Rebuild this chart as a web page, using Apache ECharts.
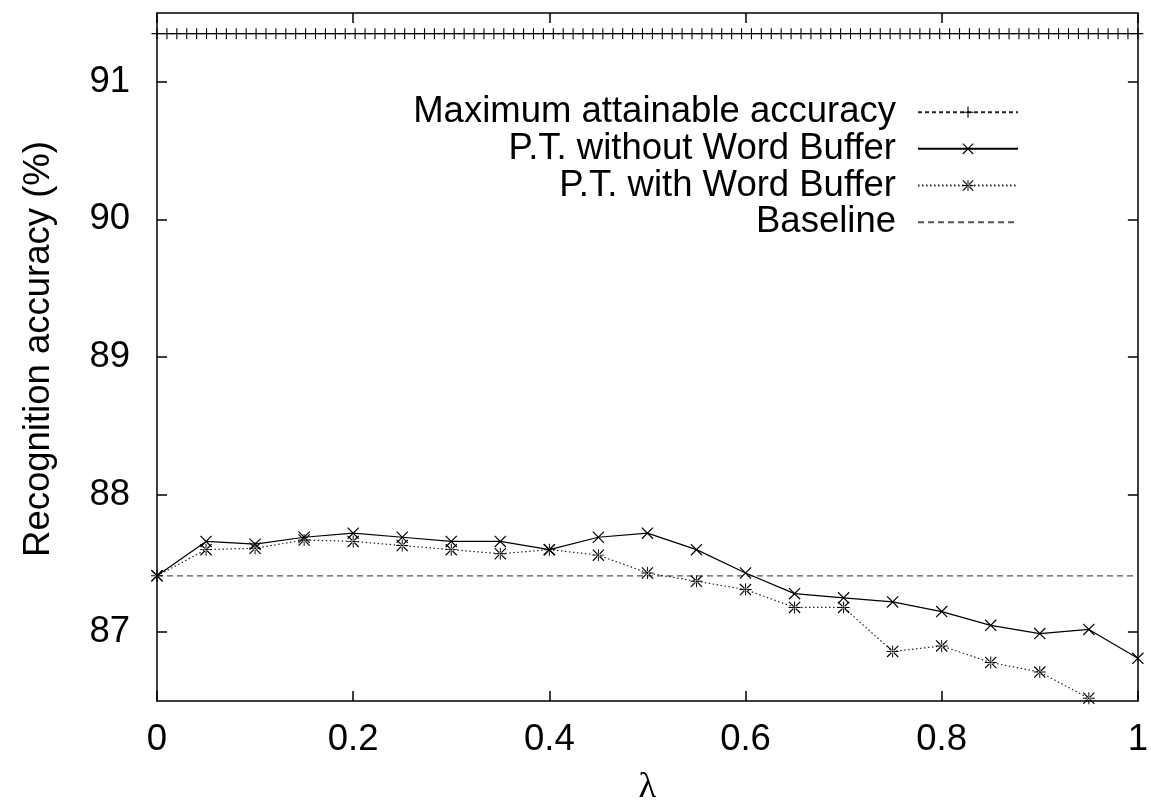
<!DOCTYPE html>
<html>
<head>
<meta charset="utf-8">
<script src="https://cdn.jsdelivr.net/npm/echarts@6/dist/echarts.min.js"></script>
<style>
html,body{margin:0;padding:0;background:#fff;}
#chart{width:1151px;height:811px;}
</style>
</head>
<body>
<div id="chart"></div>
<script>
// ---- data ----
const lambdas = [0, 0.05, 0.1, 0.15, 0.2, 0.25, 0.3, 0.35, 0.4, 0.45, 0.5, 0.55, 0.6, 0.65, 0.7, 0.75, 0.8, 0.85, 0.9, 0.95, 1.0];
const withoutBuffer = [87.41, 87.66, 87.64, 87.69, 87.72, 87.69, 87.66, 87.66, 87.60, 87.69, 87.72, 87.60, 87.43, 87.28, 87.25, 87.22, 87.15, 87.05, 86.99, 87.02, 86.81];
const withBuffer = [87.41, 87.60, 87.61, 87.67, 87.66, 87.63, 87.60, 87.57, 87.60, 87.56, 87.43, 87.37, 87.31, 87.18, 87.18, 86.86, 86.90, 86.78, 86.71, 86.52];
const maxAttainable = 91.35;
const maxSampleCount = 100;   // constant function sampled like the original plot
const baseline = 87.41;
const yTickValues = [87, 88, 89, 90, 91];
const seriesNames = ['Maximum attainable accuracy', 'P.T. without Word Buffer', 'P.T. with Word Buffer', 'Baseline'];

// ---- build series data ----
const pair = (xs, ys) => ys.map((y, i) => [xs[i], y]);
const maxData = [];
for (let i = 0; i < maxSampleCount; i++) maxData.push([i / (maxSampleCount - 1), maxAttainable]);
const baseData = [[0, baseline], [1, baseline]];

const FONT = "'Liberation Sans', Arial, Helvetica, sans-serif";
const FS = 36.5;

const plusPath = 'path://M0,4.5 H10 V5.5 H0 Z M4.5,0 H5.5 V10 H4.5 Z';
const crossPath = 'path://M0,0.7 L0.7,0 L10,9.3 L9.3,10 Z M9.3,0 L10,0.7 L0.7,10 L0,9.3 Z';
const starPath = 'path://M0,0.7 L0.7,0 L10,9.3 L9.3,10 Z M9.3,0 L10,0.7 L0.7,10 L0,9.3 Z M0,4.6 H10 V5.4 H0 Z M4.6,0 H5.4 V10 H4.6 Z M3.6,5 A1.4,1.4 0 1 0 6.4,5 A1.4,1.4 0 1 0 3.6,5 Z';

const chart = echarts.init(document.getElementById('chart'), null, {renderer: 'canvas'});

const axisCommon = {
  axisLine: {show: true, onZero: false, lineStyle: {color: '#000', width: 1.5}},
  axisTick: {show: true, inside: true, length: 10, lineStyle: {color: '#000', width: 1.5}},
  splitLine: {show: false},
  minorTick: {show: false}
};

const legendRows = [111.7, 148.3, 185, 221.7];
const legends = seriesNames.map((n, i) => ({
  data: [n],
  orient: 'vertical',
  align: 'right',
  right: 132,
  top: legendRows[i] - 18,
  itemWidth: 100,
  itemHeight: 14,
  selectedMode: false,
  padding: 0,
  itemStyle: i === 3 ? {color: 'rgba(0,0,0,0)', borderWidth: 0} : undefined,
  textStyle: {fontFamily: FONT, fontSize: FS, color: '#000', lineHeight: 36, padding: [0, 17, 0, 0]}
}));

chart.setOption({
  animation: false,
  backgroundColor: '#fff',
  grid: {left: 157, right: 13, top: 13, bottom: 107, containLabel: false},
  legend: legends,
  xAxis: [
    Object.assign({}, axisCommon, {
      type: 'value', position: 'bottom', min: 0, max: 1, interval: 0.2,
      name: 'λ', nameLocation: 'middle', nameGap: 68,
      nameTextStyle: {fontFamily: "'Liberation Serif', 'DejaVu Serif', serif", fontSize: FS, color: '#000'},
      axisLabel: {fontFamily: FONT, fontSize: FS, color: '#000', margin: 20}
    }),
    Object.assign({}, axisCommon, {
      type: 'value', position: 'top', min: 0, max: 1, interval: 0.2,
      axisLabel: {show: false}
    })
  ],
  yAxis: [
    Object.assign({}, axisCommon, {
      type: 'value', position: 'left', min: 86.5, max: 91.5,
      name: 'Recognition accuracy (%)', nameLocation: 'middle', nameGap: 100, nameRotate: 90,
      nameTextStyle: {fontFamily: FONT, fontSize: FS, color: '#000', padding: [0, 0, 0, 16]},
      axisTick: Object.assign({}, axisCommon.axisTick, {customValues: yTickValues}),
      axisLabel: {fontFamily: FONT, fontSize: FS, color: '#000', margin: 27, customValues: yTickValues}
    }),
    Object.assign({}, axisCommon, {
      type: 'value', position: 'right', min: 86.5, max: 91.5,
      axisTick: Object.assign({}, axisCommon.axisTick, {customValues: yTickValues}),
      axisLabel: {show: false, customValues: yTickValues}
    })
  ],
  series: [
    {
      name: seriesNames[0], type: 'line', data: maxData,
      symbol: plusPath, symbolSize: 11, showSymbol: true,
      itemStyle: {color: '#000'},
      lineStyle: {color: '#222', width: 1, type: [4, 3]},
      emphasis: {disabled: true}, z: 3
    },
    {
      name: seriesNames[1], type: 'line', data: pair(lambdas, withoutBuffer),
      symbol: crossPath, symbolSize: 12,
      itemStyle: {color: '#000'},
      lineStyle: {color: '#000', width: 1.2, type: 'solid'},
      emphasis: {disabled: true}, z: 4
    },
    {
      name: seriesNames[2], type: 'line', data: pair(lambdas, withBuffer),
      symbol: starPath, symbolSize: 12,
      itemStyle: {color: '#000'},
      lineStyle: {color: '#222', width: 1.2, type: [1.5, 2.5]},
      emphasis: {disabled: true}, z: 4
    },
    {
      name: seriesNames[3], type: 'line', data: baseData,
      symbol: 'none',
      itemStyle: {color: '#555'},
      lineStyle: {color: '#555', width: 1.2, type: [6, 4]},
      emphasis: {disabled: true}, z: 2
    }
  ]
});
</script>
</body>
</html>
